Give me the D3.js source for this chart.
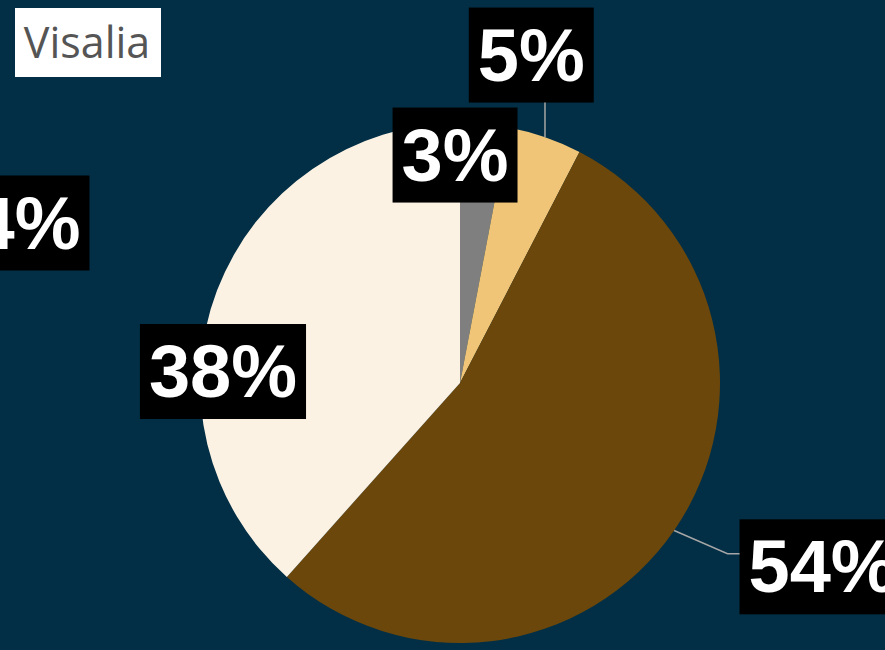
<!DOCTYPE html>
<html><head><meta charset="utf-8">
<script src="https://cdn.jsdelivr.net/npm/d3@7"></script>
<style>html,body{margin:0;padding:0;background:#022f45;overflow:hidden}</style>
</head><body>
<svg id="chart" width="885" height="650"></svg>
<script>
// ---- data ----
const categories = ["Grey", "Gold", "Brown", "Cream"];
const values = [3.0, 4.6, 54.0, 38.4];
const valueLabels = ["3%", "5%", "54%", "38%"];
const colors = ["#7f7f7f", "#f0c578", "#6b470c", "#fbf2e4"];
const title = "Visalia";
const strayLabel = "4%";

// ---- layout ----
const W = 885, H = 650;
const cx = 460, cy = 383, R = 260;
const svg = d3.select("#chart");
svg.append("rect").attr("width", W).attr("height", H).attr("fill", "#022f45");

const pie = d3.pie().sort(null).value(d => d)(values);
const arc = d3.arc().innerRadius(0).outerRadius(R);
const g = svg.append("g").attr("transform", `translate(${cx},${cy})`);
g.selectAll("path.slice").data(pie).join("path")
  .attr("class", "slice")
  .attr("d", arc)
  .attr("fill", (d, i) => colors[i]);

// label placement: polar (angle offset from mid-angle, radius) + leader style
const placement = [
  {r: 228, dAng: -0.116, leader: null},
  {r: 335.6, dAng: -0.119, leader: "vertical"},
  {r: 406.5, dAng: -0.134, leader: "elbow"},
  {r: 237.3, dAng: -0.316, leader: null}
];
const fontSize = 74;
const pad = 9;

function polar(a, r) { return [r * Math.sin(a), -r * Math.cos(a)]; }

pie.forEach((d, i) => {
  const mid = (d.startAngle + d.endAngle) / 2;
  const p = placement[i];
  const [lx, ly] = polar(mid + p.dAng, p.r);
  const t = g.append("text")
    .attr("x", lx).attr("y", ly)
    .attr("text-anchor", "middle")
    .attr("dominant-baseline", "central")
    .attr("font-family", "Liberation Sans, Arial, sans-serif")
    .attr("font-weight", "bold")
    .attr("font-size", fontSize)
    .attr("fill", "#ffffff")
    .text(valueLabels[i]);
  const bb = t.node().getBBox();
  const bw = bb.width + pad * 2, bh = 95;
  const bx = lx - bw / 2, by = ly - bh / 2;
  const [ax, ay] = polar(mid, R);
  if (p.leader === "vertical") {
    g.append("line").attr("x1", ax).attr("y1", ay).attr("x2", ax).attr("y2", by + bh)
      .attr("stroke", "#a6a6a6").attr("stroke-width", 1.5);
  } else if (p.leader === "elbow") {
    const ey = ly - 13;
    g.append("polyline")
      .attr("points", `${ax},${ay} ${bx - 12},${ey} ${bx},${ey}`)
      .attr("fill", "none").attr("stroke", "#a6a6a6").attr("stroke-width", 1.5);
  }
  g.insert("rect", () => t.node())
    .attr("x", bx).attr("y", by).attr("width", bw).attr("height", bh)
    .attr("fill", "#000000");
});

// stray label at left edge
{
  const lx = 27, ly = 223;
  const t = svg.append("text").attr("x", lx).attr("y", ly)
    .attr("text-anchor", "middle").attr("dominant-baseline", "central")
    .attr("font-family", "Liberation Sans, Arial, sans-serif")
    .attr("font-weight", "bold").attr("font-size", fontSize)
    .attr("fill", "#ffffff").text(strayLabel);
  const bb = t.node().getBBox();
  const bw = bb.width + pad * 2;
  svg.insert("rect", () => t.node())
    .attr("x", lx - bw / 2).attr("y", ly - 47.5).attr("width", bw).attr("height", 95)
    .attr("fill", "#000");
}

// title
svg.append("rect").attr("x", 15).attr("y", 8).attr("width", 146).attr("height", 69).attr("fill", "#ffffff");
svg.append("text").attr("x", 87).attr("y", 58).attr("text-anchor", "middle")
  .attr("font-family", "Open Sans, sans-serif").attr("font-size", 43)
  .attr("fill", "#555555").text(title);
</script>
</body></html>
